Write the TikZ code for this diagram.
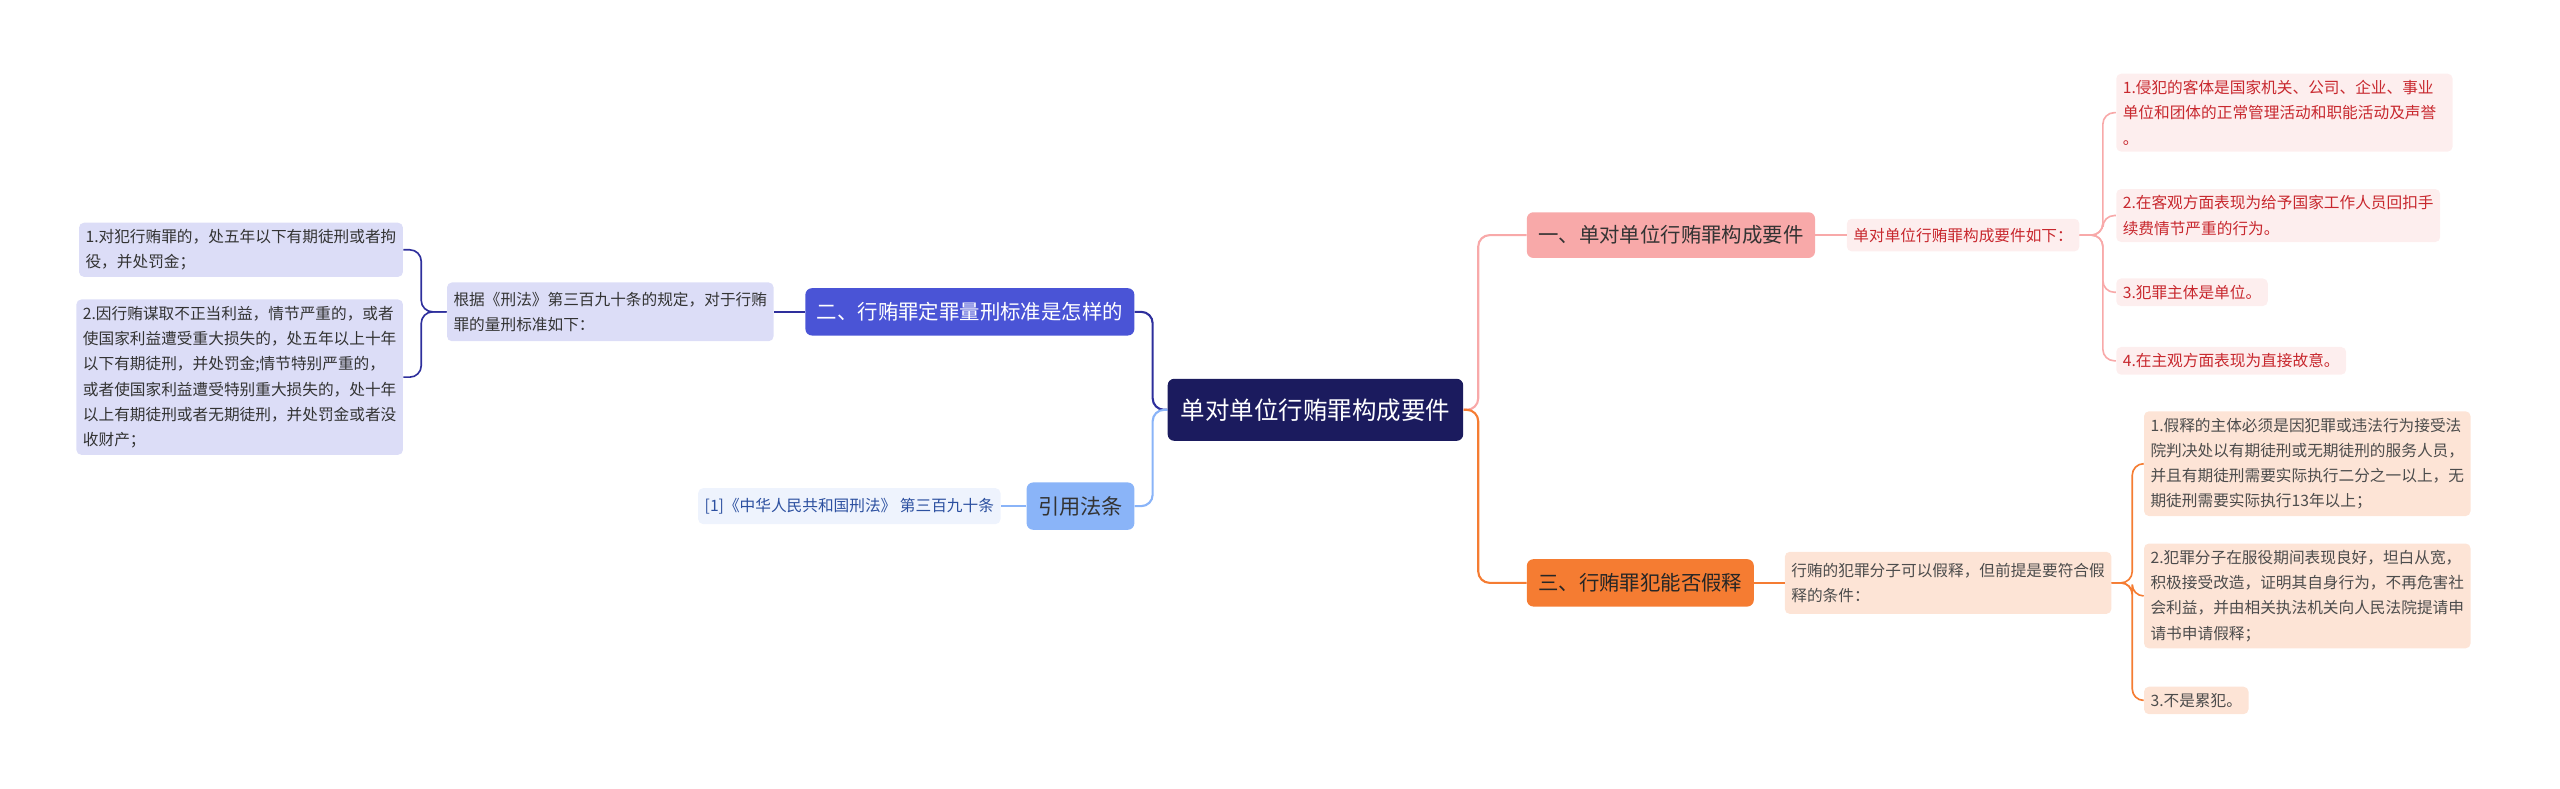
\documentclass[tikz,border=0pt]{standalone}
\usepackage{fontspec}
\setmainfont{Noto Sans CJK SC}
\begin{document}
\begin{tikzpicture}[x=1pt,y=-1pt,
  box/.style={rounded corners=3pt, inner sep=4pt, align=left, anchor=west, font=\fontsize{9.6}{15.5}\selectfont},
  main/.style={rounded corners=4pt, inner xsep=7pt, inner ysep=6pt, anchor=west, font=\fontsize{12.5}{15}\selectfont},
  conn/.style={line width=1.3pt, rounded corners=7pt}]
\useasboundingbox (0,0) rectangle (1568,483);
\definecolor{navy}{HTML}{1B1B5E}
\definecolor{pinkA}{HTML}{F8A9A9}
\definecolor{pinkL}{HTML}{FDEEEE}
\definecolor{redT}{HTML}{C8282E}
\definecolor{orC}{HTML}{F57C32}
\definecolor{orL}{HTML}{FDE4D6}
\definecolor{bluB}{HTML}{4A54D6}
\definecolor{bluL}{HTML}{DCDDF7}
\definecolor{bluN}{HTML}{2E2F9C}
\definecolor{skyD}{HTML}{8AB4F8}
\definecolor{skyL}{HTML}{EEF3FD}
\definecolor{skyT}{HTML}{2C50A0}

\node[main, fill=navy, text=white, font=\fontsize{15}{18}\selectfont, minimum height=38, inner xsep=8pt] (root) at (715,251) {单对单位行贿罪构成要件};

% A
\node[main, fill=pinkA, text=black!80, minimum height=28] (A) at (935,144) {一、单对单位行贿罪构成要件};
\node[box, fill=pinkL, text=redT, minimum height=20] (A1) at (1131,144) {单对单位行贿罪构成要件如下：};
\node[box, fill=pinkL, text=redT, text width=198] (A2) at (1296,69) {1.侵犯的客体是国家机关、公司、企业、事业\\单位和团体的正常管理活动和职能活动及声誉\\。};
\node[box, fill=pinkL, text=redT] (A3) at (1296,132) {2.在客观方面表现为给予国家工作人员回扣手\\续费情节严重的行为。};
\node[box, fill=pinkL, text=redT] (A4) at (1296,179) {3.犯罪主体是单位。};
\node[box, fill=pinkL, text=redT] (A5) at (1296,221) {4.在主观方面表现为直接故意。};

% C
\node[main, fill=orC, text=black!85, minimum height=29] (C) at (935,357) {三、行贿罪犯能否假释};
\node[box, fill=orL, text=black!70, minimum height=38] (C1) at (1093,357) {行贿的犯罪分子可以假释，但前提是要符合假\\释的条件：};
\node[box, fill=orL, text=black!70] (C2) at (1313,284) {1.假释的主体必须是因犯罪或违法行为接受法\\院判决处以有期徒刑或无期徒刑的服务人员，\\并且有期徒刑需要实际执行二分之一以上，无\\期徒刑需要实际执行13年以上；};
\node[box, fill=orL, text=black!70] (C3) at (1313,365) {2.犯罪分子在服役期间表现良好，坦白从宽，\\积极接受改造，证明其自身行为，不再危害社\\会利益，并由相关执法机关向人民法院提请申\\请书申请假释；};
\node[box, fill=orL, text=black!70] (C4) at (1313,429) {3.不是累犯。};

% B
\node[main, fill=bluB, text=white, minimum height=29, anchor=east] (B) at (695,191) {二、行贿罪定罪量刑标准是怎样的};
\node[box, fill=bluL, text=black!80, anchor=east, minimum height=36] (B1) at (474,191) {根据《刑法》第三百九十条的规定，对于行贿\\罪的量刑标准如下：};
\node[box, fill=bluL, text=black!80, anchor=east] (B2) at (247,153) {1.对犯行贿罪的，处五年以下有期徒刑或者拘\\役，并处罚金；};
\node[box, fill=bluL, text=black!80, anchor=east] (B3) at (247,231) {2.因行贿谋取不正当利益，情节严重的，或者\\使国家利益遭受重大损失的，处五年以上十年\\以下有期徒刑，并处罚金;情节特别严重的，\\或者使国家利益遭受特别重大损失的，处十年\\以上有期徒刑或者无期徒刑，并处罚金或者没\\收财产；};

% D
\node[main, fill=skyD, text=black!80, minimum height=29, anchor=east, font=\fontsize{13}{15}\selectfont] (D) at (695,310) {引用法条};
\node[box, fill=skyL, text=skyT, anchor=east, minimum height=22] (D1) at (613,310) {[1]《中华人民共和国刑法》 第三百九十条};

% connectors
\draw[conn, pinkA] (root.east) -- ++(9,0) |- (A.west);
\draw[conn, orC] (root.east) -- ++(9,0) |- (C.west);
\draw[conn, bluN] (root.west) -- ++(-9,0) |- (B.east);
\draw[conn, skyD] (root.west) -- ++(-9,0) |- (D.east);
\draw[conn, pinkA, line width=1pt] (A.east) -- (A1.west);
\foreach \t in {A2,A3,A4,A5}
  \draw[conn, pinkA, line width=1pt] (A1.east) -- (1288,144) |- (\t.west);
\draw[conn, orC, line width=1pt] (C.east) -- (C1.west);
\foreach \t in {C2,C3,C4}
  \draw[conn, orC, line width=1pt] (C1.east) -- (1306,357) |- (\t.west);
\draw[conn, bluN, line width=1pt] (B.west) -- (B1.east);
\foreach \t in {B2,B3}
  \draw[conn, bluN, line width=1pt] (B1.west) -- (258,191) |- (\t.east);
\draw[conn, skyD, line width=1pt] (D.west) -- (D1.east);
\end{tikzpicture}
\end{document}
